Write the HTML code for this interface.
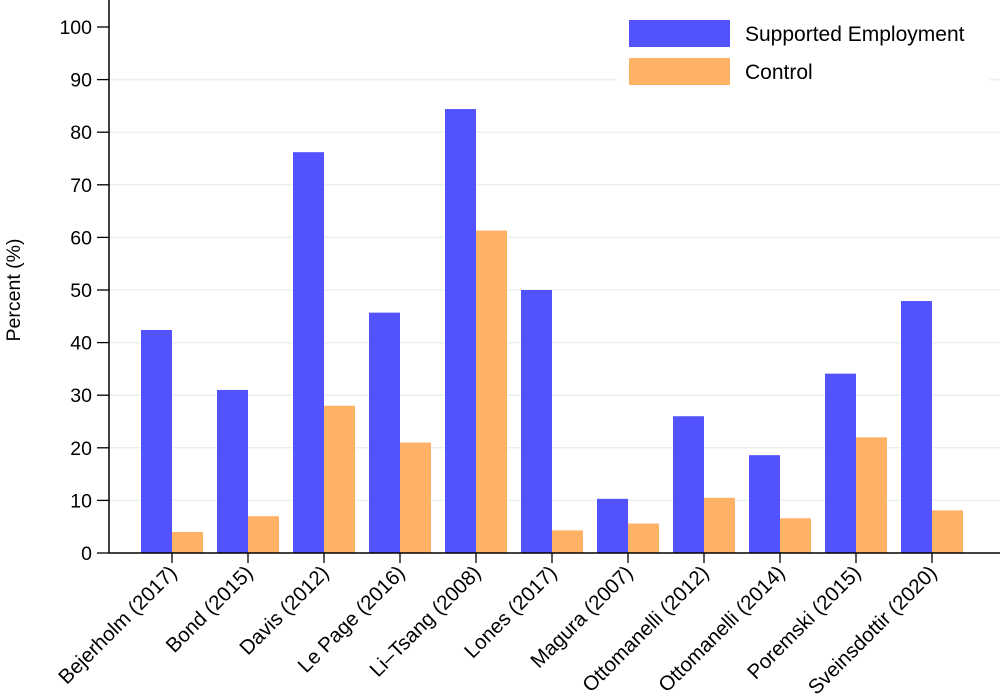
<!DOCTYPE html>
<html><head><meta charset="utf-8"><style>body{margin:0;background:#fff}svg{display:block;font-family:"Liberation Sans",sans-serif}</style></head>
<body>
<svg id="c" width="1000" height="699"></svg>
<script>
const categories=["Bejerholm (2017)","Bond (2015)","Davis (2012)","Le Page (2016)","Li\u2013Tsang (2008)","Lones (2017)","Magura (2007)","Ottomanelli (2012)","Ottomanelli (2014)","Poremski (2015)","Sveinsdottir (2020)"];
const supported=[42.4,31,76.2,45.7,84.4,50,10.3,26,18.6,34.1,47.9];
const control=[4,7,28,21,61.3,4.3,5.6,10.5,6.6,22,8.1];
const yTicks=[0,10,20,30,40,50,60,70,80,90,100];
const svg=document.getElementById('c');const NS='http://www.w3.org/2000/svg';
function mk(t,a,p){const e=document.createElementNS(NS,t);for(const k in a)e.setAttribute(k,a[k]);(p||svg).appendChild(e);return e;}
const y=v=>553-v*5.26;const cx=i=>172+76*i;const bw=31;
yTicks.forEach(t=>{
 if(t>0&&t<100){const g=mk('line',{x1:109,x2:1000,y1:y(t),y2:y(t),stroke:'#eaf0f2','stroke-width':1.5});
 
 }
 const tk=mk('line',{x1:97,x2:109,y1:y(t),y2:y(t),stroke:'#000','stroke-width':1.3});
 
 
 const l=mk('text',{x:92,y:y(t)+7,'text-anchor':'end','font-size':19.5});l.textContent=t;
 
 
});
categories.forEach((c,i)=>{
 const b=mk('rect',{x:cx(i)-bw,y:y(supported[i]),width:bw,height:y(0)-y(supported[i]),fill:'#5252ff'});
 
 
 const o=mk('rect',{x:cx(i),y:y(control[i]),width:bw,height:y(0)-y(control[i]),fill:'#ffb266'});
 
 
 const tk=mk('line',{x1:cx(i),x2:cx(i),y1:553,y2:563,stroke:'#000','stroke-width':1.3});
 
 
 const l=mk('text',{x:cx(i)+6,y:574,'text-anchor':'end','font-size':20.5,transform:`rotate(-45 ${cx(i)+6} 574)`});l.textContent=c;
 
 
});
const ax=mk('line',{x1:109,x2:109,y1:0,y2:553,stroke:'#000','stroke-width':1.5});


const xa=mk('line',{x1:109,x2:1000,y1:553,y2:553,stroke:'#000','stroke-width':1.5});


const yt=mk('text',{x:20,y:290,'text-anchor':'middle','font-size':19.5,transform:'rotate(-90 20 290)'});yt.textContent='Percent (%)';


const lg=mk('g',{});


mk('rect',{x:617,y:10,width:373,height:85,fill:'#fff'},lg);
[['#5252ff','Supported Employment',20],['#ffb266','Control',58]].forEach(([col,txt,yy])=>{
 const s=mk('rect',{x:629,y:yy,width:101,height:27,fill:col},lg);
 
 
 const t=mk('text',{x:745,y:yy+21,'font-size':21},lg);t.textContent=txt;
 
 
});
</script>
</body></html>
